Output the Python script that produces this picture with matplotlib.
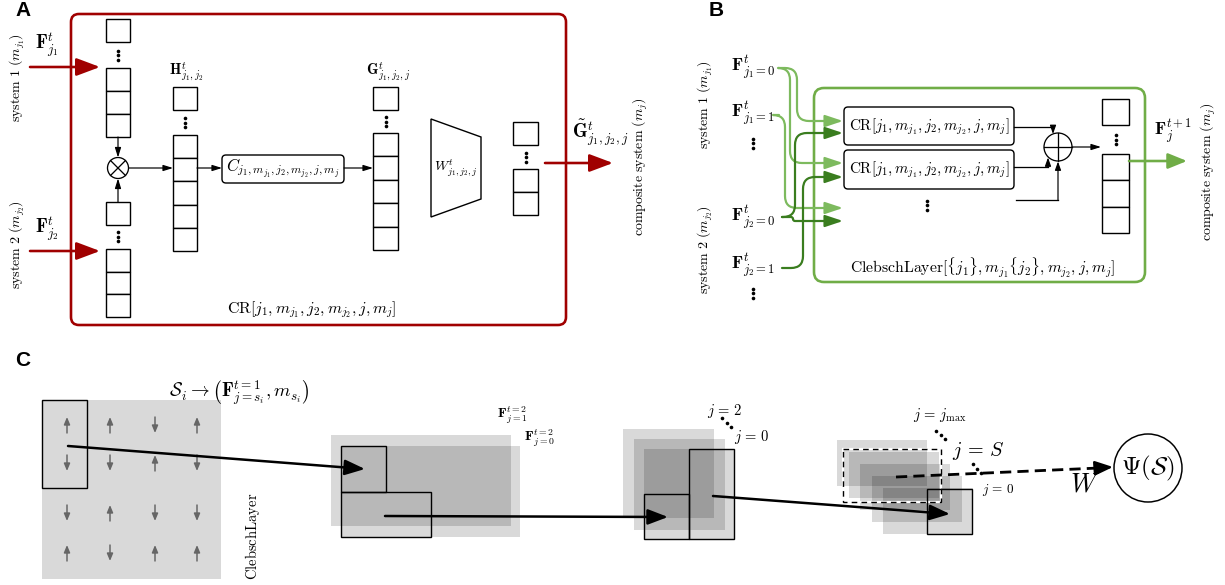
import numpy as np
import matplotlib
matplotlib.use("Agg")
import matplotlib.pyplot as plt
from matplotlib.patches import Rectangle, FancyBboxPatch, FancyArrowPatch, Circle, Polygon
from matplotlib.path import Path

plt.rcParams["mathtext.fontset"] = "cm"

# ---- content ----
# panel A: number of cells in each feature column
n_in_cells = 3
n_H_cells = 5
n_G_cells = 5
n_outA_cells = 2
# panel B
n_outB_cells = 3
B_inputs = [r"$\mathbf{F}^t_{j_1=0}$", r"$\mathbf{F}^t_{j_1=1}$",
            r"$\mathbf{F}^t_{j_2=0}$", r"$\mathbf{F}^t_{j_2=1}$"]
cr_label = r"$\mathrm{CR}[j_1, m_{j_1}, j_2, m_{j_2}, j, m_j]$"
# panel C: spin configuration (+1 up, -1 down), rows top to bottom
spin_grid = [[1, 1, -1, 1],
             [-1, -1, 1, -1],
             [-1, 1, -1, -1],
             [1, -1, 1, 1]]

RED = "#a00000"
GREEN = "#70ad47"
LGREEN = "#7dba5e"
DGREEN = "#3a7d1f"
PX = 0.72  # pixel -> point at dpi 100

fig = plt.figure(figsize=(12.25, 5.85), dpi=100)
ax = fig.add_axes([0, 0, 1, 1])
ax.set_xlim(0, 1225)
ax.set_ylim(585, 0)
ax.axis("off")


def box(x, y, w, h, lw=1.4, ec="k", fc="white", z=3):
    ax.add_patch(Rectangle((x, y), w, h, fc=fc, ec=ec, lw=lw * PX, zorder=z))


def rbox(x, y, w, h, r=4, ec="k", lw=1.4, fc="white", z=3):
    ax.add_patch(FancyBboxPatch((x, y), w, h, boxstyle=f"round,pad=0,rounding_size={r}",
                                fc=fc, ec=ec, lw=lw * PX, zorder=z))


def vdots(x, y, gap=4.5, ms=2.6):
    ax.plot([x, x, x], [y - gap, y, y + gap], "o", color="k", ms=ms, mew=0, zorder=4)


def stack(x, y_single, y_stack, n, w=24, h=23):
    box(x, y_single, w, h)
    vdots(x + w / 2, (y_single + h + y_stack) / 2)
    for i in range(n):
        box(x, y_stack + i * h, w, h)


def arrow(p0, p1, color="k", lw=1.2, hl=8, hw=5, z=5):
    st = f"-|>,head_length={hl * PX},head_width={hw * PX / 2}"
    ax.add_patch(FancyArrowPatch(p0, p1, arrowstyle=st, mutation_scale=1, color=color,
                                 lw=lw * PX, shrinkA=0, shrinkB=0, zorder=z))


def route(x0, y0, xm, y1, x1, color, r=12):
    s = 1 if y1 > y0 else -1
    r = min(r, abs(y1 - y0) / 2)
    verts = [(x0, y0), (xm - r, y0), (xm, y0), (xm, y0 + s * r),
             (xm, y1 - s * r), (xm, y1), (xm + r, y1), (x1, y1)]
    codes = [Path.MOVETO, Path.LINETO, Path.CURVE3, Path.CURVE3,
             Path.LINETO, Path.CURVE3, Path.CURVE3, Path.LINETO]
    st = f"-|>,head_length={15 * PX},head_width={5 * PX}"
    ax.add_patch(FancyArrowPatch(path=Path(verts, codes), arrowstyle=st, mutation_scale=1,
                                 color=color, lw=2.2 * PX, shrinkA=0, shrinkB=0, zorder=4))


def txt(x, y, s, size=10, rot=0, **kw):
    ax.text(x, y, s, fontsize=size, rotation=rot, ha="center", va="center", **kw)


# ================= panel A =================
txt(23, 11, "A", 15, family="Liberation Sans", weight="bold")
rbox(71, 14, 495, 311, r=8, ec=RED, lw=2.6, fc="none", z=2)

stack(106, 19, 68, n_in_cells)
stack(106, 202, 249, n_in_cells, h=22.5)
# tensor product
ax.add_patch(Circle((118, 168), 10.5, fc="white", ec="k", lw=1.3 * PX, zorder=4))
d = 10.5 * 0.707
ax.plot([118 - d, 118 + d], [168 - d, 168 + d], color="k", lw=1.3 * PX, zorder=5)
ax.plot([118 - d, 118 + d], [168 + d, 168 - d], color="k", lw=1.3 * PX, zorder=5)
arrow((118, 137), (118, 157.5))
arrow((118, 202), (118, 178.5))
arrow((129, 168), (173, 168))

stack(173, 87, 135, n_H_cells, h=23.2)
txt(186, 72, r"$\mathbf{H}^t_{j_1,j_2}$", 10.5)
arrow((197, 168), (222, 168))
rbox(222, 155, 122, 28, r=4)
txt(283, 169, r"$C_{j_1,m_{j_1},j_2,m_{j_2},j,m_j}$", 12)
arrow((344, 168), (373, 168))

stack(373, 87, 133, n_G_cells, w=25, h=23.4)
txt(388, 72, r"$\mathbf{G}^t_{j_1,j_2,j}$", 10.5)

ax.add_patch(Polygon([(431, 119), (481, 137), (481, 199), (431, 217)], closed=True,
                     fc="white", ec="k", lw=1.4 * PX, zorder=3))
txt(456, 168, r"$W^t_{j_1,j_2,j}$", 10)

stack(513, 122, 169, n_outA_cells, w=25, h=23)

arrow((30, 67), (100, 67), color=RED, lw=2.6, hl=20, hw=15)
arrow((30, 251), (100, 251), color=RED, lw=2.6, hl=20, hw=15)
arrow((545, 163), (613, 163), color=RED, lw=2.6, hl=20, hw=15)

txt(47, 45, r"$\mathbf{F}^t_{j_1}$", 13.5)
txt(47, 229, r"$\mathbf{F}^t_{j_2}$", 13.5)
txt(17, 78, r"$\mathrm{system\ 1}\ (m_{j_1})$", 10, rot=90)
txt(17, 245, r"$\mathrm{system\ 2}\ (m_{j_2})$", 10, rot=90)
txt(600, 133, r"$\tilde{\mathbf{G}}^t_{j_1,j_2,j}$", 13.5)
txt(640, 167, r"$\mathrm{composite\ system}\ (m_j)$", 10, rot=90)
txt(312, 310, cr_label, 11.5)

# ================= panel B =================
txt(716, 11, "B", 15, family="Liberation Sans", weight="bold")
rbox(814, 88, 331, 194, r=10, ec=GREEN, lw=2.6, fc="none", z=2)
rbox(844, 107, 170, 38, r=4)
rbox(844, 150, 170, 39, r=4)
txt(929, 127, cr_label, 10.9)
txt(929, 170, cr_label, 10.9)
vdots(927, 205)

ax.add_patch(Circle((1058, 147), 14, fc="white", ec="k", lw=1.3 * PX, zorder=4))
ax.plot([1044, 1072], [147, 147], color="k", lw=1.3 * PX, zorder=5)
ax.plot([1058, 1058], [133, 161], color="k", lw=1.3 * PX, zorder=5)
ax.plot([1014, 1053], [127, 127], color="k", lw=1.3 * PX, zorder=3)
arrow((1053, 127), (1053, 134), hl=7, hw=5)
ax.plot([1014, 1048], [167, 167], color="k", lw=1.3 * PX, zorder=3)
arrow((1048, 167), (1048, 157.5), hl=7, hw=5)
ax.plot([1016, 1058], [200, 200], color="k", lw=1.3 * PX, zorder=3)
arrow((1058, 200), (1058, 161.5), hl=7, hw=5)
arrow((1072, 147), (1101, 147), hl=8, hw=5)

stack(1102, 99, 154, n_outB_cells, w=27, h=26.3)
arrow((1129, 161), (1187, 161), color=GREEN, lw=2.6, hl=16, hw=13)

route(779, 68, 797, 121, 843, LGREEN)
route(779, 68, 790, 163, 843, LGREEN)
route(779, 115, 785, 208, 843, LGREEN)
route(782, 217, 795, 133, 843, DGREEN)
route(782, 217, 793, 221, 843, DGREEN)
route(782, 268, 803, 177, 843, DGREEN)

for (yy, lab) in zip([67, 113, 217, 265], B_inputs):
    txt(753, yy, lab, 13)
vdots(753, 143)
vdots(753, 293)
txt(705, 105, r"$\mathrm{system\ 1}\ (m_{j_1})$", 10, rot=90)
txt(705, 250, r"$\mathrm{system\ 2}\ (m_{j_2})$", 10, rot=90)
txt(1173, 131, r"$\mathbf{F}^{t+1}_j$", 13)
txt(1208, 172, r"$\mathrm{composite\ system}\ (m_j)$", 10, rot=90)
txt(983, 268, r"$\mathrm{ClebschLayer}[\{j_1\}, m_{j_1}\{j_2\}, m_{j_2}, j, m_j]$", 11.3)

# ================= panel C =================
txt(23, 360, "C", 15, family="Liberation Sans", weight="bold")
box(42, 400, 179, 179, lw=0, ec="none", fc="#d9d9d9", z=1)
box(42, 400, 45, 88, fc="none", lw=1.4, z=3)
col_x = [67, 110, 155, 197]
row_y = [425, 463, 513, 553]
for r_i, row in enumerate(spin_grid):
    for c_i, s in enumerate(row):
        x, y = col_x[c_i], row_y[r_i]
        arrow((x, y + 8 * s), (x, y - 8 * s), color="#666666", lw=1.5, hl=6, hw=5, z=2)
txt(239, 393, r"$\mathcal{S}_i \rightarrow \left(\mathbf{F}^{t=1}_{j=s_i}, m_{s_i}\right)$", 13.5)
txt(253, 536, r"$\mathrm{ClebschLayer}$", 10.5, rot=90)

GRAY = (0, 0, 0, 0.15)
# t = 2
for (x, y, w, h) in [(331, 435, 180, 91), (341, 446, 179, 91)]:
    box(x, y, w, h, lw=0, ec="none", fc=GRAY, z=1)
box(341, 446, 45, 46, fc="none", lw=1.4)
box(341, 492, 90, 45, fc="none", lw=1.4)
txt(512, 415, r"$\mathbf{F}^{t=2}_{j=1}$", 10)
txt(539, 438, r"$\mathbf{F}^{t=2}_{j=0}$", 10)

# t = 3
for (x, y, w, h) in [(623, 429, 91, 89), (634, 439, 91, 91), (644, 449, 90, 90)]:
    box(x, y, w, h, lw=0, ec="none", fc=GRAY, z=1)
box(644, 494, 45, 45, fc="none", lw=1.4)
box(689, 449, 45, 90, fc="none", lw=1.4)
txt(725, 411, r"$j\,=\,2$", 10.5)
ax.plot([722, 726.5, 731], [418, 422.5, 427], "o", color="k", ms=2.6, mew=0)
txt(752, 437, r"$j\,=\,0$", 10.5)

# t = 4
for i in range(5):
    box(837 + 11.5 * i, 440 + 12 * i, 90, 46, lw=0, ec="none", fc=GRAY, z=1)
ax.add_patch(Rectangle((843, 449), 98, 53, fc="none", ec="white", lw=2.2 * PX, zorder=3))
ax.add_patch(Rectangle((843, 449), 98, 53, fc="none", ec="k", lw=1.4 * PX, ls=(0, (4, 3)), zorder=3))
box(927, 489, 45, 45, fc="none", lw=1.4)
txt(940, 415, r"$j\,=\,j_{\max}$", 10.5)
ax.plot([936, 940.5, 945], [431, 435, 439], "o", color="k", ms=2.6, mew=0)
txt(978, 451, r"$j\,=\,S$", 14.5)
ax.plot([973, 977, 981], [464, 468.5, 473], "o", color="k", ms=2.6, mew=0)
txt(998, 490, r"$j\,=\,0$", 9.5)

# connecting arrows
arrow((68, 446), (365, 469), lw=2.5, hl=17, hw=13)
arrow((385, 516), (668, 517), lw=2.5, hl=17, hw=13)
arrow((713, 496), (950, 514), lw=2.5, hl=17, hw=13)
ax.plot([896, 1099], [477, 468], color="k", lw=2.8 * PX, ls=(0, (4, 2.2)), zorder=5)
arrow((1098, 468), (1113, 467), lw=2.5, hl=15, hw=12)
txt(1085, 484, r"$W$", 19)
ax.add_patch(Circle((1148, 468), 34, fc="white", ec="k", lw=1.5 * PX, zorder=3))
txt(1148, 468, r"$\Psi(\mathcal{S})$", 18)

fig.savefig("out.png", dpi=100)
